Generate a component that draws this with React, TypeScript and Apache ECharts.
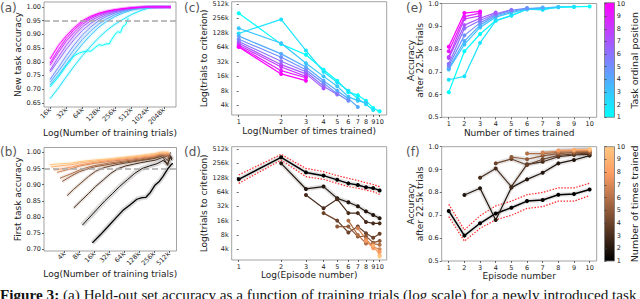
import React, { useEffect, useRef } from 'react';
import * as echarts from 'echarts';

// ---------------- (a) New task accuracy vs training trials (k) ----------------
const A_TRIALS_K = [16, 23, 32, 45, 64, 91, 128, 181, 256, 362, 512, 724, 1024, 1448, 2048, 2780];
const A_POS1_TRIALS_K = [16, 23, 32, 45, 56, 64, 80, 91, 110, 128, 150, 181, 200, 220, 256, 290, 320, 362, 400, 450];
const A_POS1_ACC = [0.708, 0.745, 0.785, 0.822, 0.832, 0.836, 0.84, 0.838, 0.852, 0.862, 0.86, 0.866, 0.865, 0.88, 0.9, 0.91, 0.906, 0.93, 0.935, 0.958];
// positions 2..10
const A_ACC_BY_POS: (number | null)[][] = [
  [0.665, 0.705, 0.745, 0.785, 0.823, 0.857, 0.888, 0.915, 0.937, 0.955, 0.972, 0.985, 0.995, 1.0, null, null],
  [0.715, 0.752, 0.79, 0.828, 0.865, 0.898, 0.926, 0.948, 0.965, 0.978, 0.988, 0.995, 0.999, 1.0, 1.0, null],
  [0.725, 0.765, 0.805, 0.845, 0.882, 0.913, 0.938, 0.957, 0.972, 0.983, 0.991, 0.996, 0.999, 1.0, 1.0, 1.0],
  [0.735, 0.78, 0.822, 0.862, 0.898, 0.927, 0.95, 0.966, 0.978, 0.987, 0.993, 0.997, 0.999, 1.0, 1.0, 1.0],
  [0.762, 0.805, 0.845, 0.882, 0.915, 0.94, 0.958, 0.972, 0.982, 0.989, 0.994, 0.997, 0.999, 1.0, 1.0, 1.0],
  [0.768, 0.818, 0.86, 0.897, 0.928, 0.95, 0.965, 0.977, 0.985, 0.991, 0.995, 0.998, 0.999, 1.0, 1.0, 1.0],
  [0.787, 0.835, 0.875, 0.908, 0.937, 0.957, 0.971, 0.981, 0.988, 0.992, 0.996, 0.998, 1.0, 1.0, 1.0, 1.0],
  [0.795, 0.845, 0.885, 0.918, 0.944, 0.962, 0.975, 0.983, 0.989, 0.993, 0.996, 0.998, 1.0, 1.0, 1.0, 1.0],
  [0.81, 0.86, 0.895, 0.925, 0.95, 0.966, 0.977, 0.985, 0.99, 0.994, 0.997, 0.999, 1.0, 1.0, 1.0, 1.0],
];
const A_X_TICKS_K = [16, 32, 64, 128, 256, 512, 1024, 2048];
const A_Y_TICKS = [0.65, 0.7, 0.75, 0.8, 0.85, 0.9, 0.95, 1.0];

// ---------------- (b) First task accuracy vs training trials (k), by times trained ----------------
const B_TRIALS_K: number[][] = [
  [14.6, 21.1, 29.9, 42.2, 59.7, 84.4, 115, 147, 175, 215, 265, 326, 388, 478, 549, 609],
  [9.19, 13, 18.4, 26, 36.8, 52, 73.5, 104, 147, 208, 294, 388, 478, 549, 588],
  [6.15, 8.57, 12.1, 17.1, 24.3, 34.3, 48.5, 68.6, 97, 137, 194, 274, 388, 478, 549, 588],
  [4.53, 6.06, 8.57, 12.1, 17.1, 24.3, 34.3, 48.5, 68.6, 97, 137, 194, 274, 388, 478, 549],
  [3.6, 5.66, 8, 11.3, 16, 32, 64, 128, 256, 362, 512],
  [3.25, 5.66, 8, 11.3, 16, 32, 64, 128, 256, 362, 512],
  [2.83, 5.66, 8, 11.3, 16, 32, 64, 128, 256, 362, 512],
  [2.46, 5.66, 8, 11.3, 16, 32, 64, 128, 256, 362, 512],
  [2.14, 5.66, 8, 11.3, 16, 32, 64, 128, 256, 362, 512],
  [2.0, 5.66, 8, 11.3, 16, 32, 64, 128, 256, 362, 512],
];
const B_ACC: number[][] = [
  [0.72, 0.745, 0.77, 0.795, 0.82, 0.838, 0.855, 0.86, 0.861, 0.876, 0.898, 0.91, 0.926, 0.948, 0.96, 0.966],
  [0.775, 0.8, 0.825, 0.85, 0.872, 0.895, 0.915, 0.935, 0.95, 0.958, 0.965, 0.975, 0.965, 0.985, 0.975],
  [0.828, 0.85, 0.872, 0.895, 0.915, 0.935, 0.95, 0.958, 0.963, 0.968, 0.972, 0.976, 0.985, 0.96, 0.99, 0.98],
  [0.866, 0.885, 0.905, 0.925, 0.942, 0.952, 0.958, 0.963, 0.967, 0.971, 0.975, 0.978, 0.982, 0.99, 0.975, 1.0],
  [0.91, 0.928, 0.94, 0.948, 0.955, 0.963, 0.97, 0.976, 0.983, 0.99, 0.985],
  [0.92, 0.935, 0.945, 0.953, 0.959, 0.967, 0.973, 0.979, 0.986, 0.992, 0.99],
  [0.938, 0.95, 0.957, 0.962, 0.966, 0.972, 0.977, 0.982, 0.988, 0.995, 0.993],
  [0.945, 0.955, 0.961, 0.965, 0.969, 0.975, 0.98, 0.985, 0.99, 1.0, 0.995],
  [0.955, 0.962, 0.967, 0.97, 0.973, 0.978, 0.983, 0.988, 0.994, 1.0, 1.0],
  [0.962, 0.967, 0.971, 0.974, 0.976, 0.98, 0.985, 0.99, 0.996, 1.0, 1.0],
];
const B_X_TICKS_K = [4, 8, 16, 32, 64, 128, 256, 512];
const B_Y_TICKS = [0.7, 0.75, 0.8, 0.85, 0.9, 0.95, 1.0];

// ---------------- (c) Trials to criterion (k) vs number of times trained, by task position ----------------
const C_TRIALS_K: number[][] = [
  [330, 75, 45, 22, 13, 7.5, 6.5, 5, 3.5, 3],
  [125, 245, 55, 20, 12, 8, 5.5, 4.2, 3.2],
  [160, 78, 30, 16, 10, 6, 5, 4.5],
  [110, 47, 25, 13, 8, 5.5, 3.7],
  [95, 40, 22, 11.5, 7, 5],
  [85, 33, 20, 10, 6.7],
  [78, 28, 18, 9],
  [72, 25, 16],
  [68, 21, 15],
  [65, 18, 13],
];
const TIMES = [1, 2, 3, 4, 5, 6, 7, 8, 9, 10];
const LOG_Y_TICKS_K = [4, 8, 16, 32, 64, 128, 256, 512];

// ---------------- (d) Trials to criterion (k) vs episode, by times trained ----------------
const D_TRIALS_K: number[][] = [
  [118, 342, 165, 141, 115, 97, 90, 80, 77, 69],
  [256, 74, 83, 47, 39, 32, 25, 21, 18],
  [55, 29, 45, 23, 23, 15, 14, 14],
  [23, 16, 9, 12, 8.7, 7, 8.5],
  [12, 12, 7.4, 7.5, 5.5, 6],
  [16, 8, 5.3, 5.2, 5],
  [11, 6.5, 4.5, 4],
  [6, 4.2, 3.5],
  [4.8, 3],
  [2.8],
];
const D_UPPER_K = [146, 395, 200, 171, 141, 124, 111, 100, 92, 83];
const D_LOWER_K = [97, 300, 134, 118, 97, 83, 77, 70, 65, 57];

// ---------------- (e) Accuracy after 22.5k trials vs times trained, by task position ----------------
const E_ACC: number[][] = [
  [0.61, 0.79, 0.866, 0.925, 0.948, 0.975, 0.975, 0.983, 0.985, 0.987],
  [0.665, 0.68, 0.827, 0.924, 0.946, 0.975, 0.972, 0.985, 0.986],
  [0.71, 0.82, 0.895, 0.94, 0.96, 0.975, 0.98, 0.985],
  [0.715, 0.835, 0.905, 0.945, 0.965, 0.978, 0.982],
  [0.725, 0.86, 0.915, 0.95, 0.97, 0.98],
  [0.735, 0.89, 0.925, 0.955, 0.972],
  [0.76, 0.905, 0.935, 0.96],
  [0.765, 0.932, 0.946],
  [0.79, 0.942, 0.958],
  [0.81, 0.958, 0.965],
];
const ACC_TICKS = [0.5, 0.6, 0.7, 0.8, 0.9, 1.0];

// ---------------- (f) Accuracy after 22.5k trials vs episode, by times trained ----------------
const F_ACC: number[][] = [
  [0.719, 0.611, 0.665, 0.708, 0.733, 0.762, 0.767, 0.79, 0.793, 0.813],
  [0.789, 0.818, 0.679, 0.821, 0.857, 0.886, 0.927, 0.942, 0.961],
  [0.864, 0.905, 0.825, 0.923, 0.934, 0.956, 0.964, 0.966],
  [0.927, 0.946, 0.92, 0.945, 0.962, 0.968, 0.972],
  [0.955, 0.945, 0.96, 0.97, 0.975, 0.975],
  [0.97, 0.97, 0.975, 0.978, 0.98],
  [0.975, 0.98, 0.982, 0.984],
  [0.984, 0.986, 0.986],
  [0.987, 0.988],
  [0.99],
];
const F_UPPER = [0.748, 0.636, 0.698, 0.741, 0.762, 0.79, 0.8, 0.82, 0.82, 0.84];
const F_LOWER = [0.694, 0.587, 0.643, 0.68, 0.7, 0.73, 0.738, 0.762, 0.762, 0.786];
const CB_TICKS = [1, 2, 3, 4, 5, 6, 7, 8, 9, 10];

const CAPTION_BOLD = 'Figure 3:';
const CAPTION_TEXT = ' (a) Held-out set accuracy as a function of training trials (log scale) for a newly introduced task';

const FONT = 'DejaVu Sans';

function cool(p: number) {
  const t = (p - 1) / 9;
  return `rgb(${Math.round(255 * t)},${Math.round(255 * (1 - t))},255)`;
}
function copper(k: number) {
  const t = (k - 1) / 9;
  return `rgb(${Math.round(Math.min(1, 1.25 * t) * 255)},${Math.round(0.7812 * t * 255)},${Math.round(0.4975 * t * 255)})`;
}

function buildOption() {
  const grids = [
    { left: 44, top: 2, width: 132, height: 105 },
    { left: 44, top: 147.5, width: 132.5, height: 103.5 },
    { left: 231.7, top: 1.7, width: 155, height: 113.3 },
    { left: 231.7, top: 146.7, width: 155, height: 113.3 },
    { left: 441.7, top: 2.7, width: 155, height: 114.6 },
    { left: 441.7, top: 146.7, width: 155, height: 114.3 },
    { left: 604.5, top: 2.7, width: 10, height: 114.6 },
    { left: 604.5, top: 146.7, width: 10, height: 114.3 },
  ].map((g, i) => ({
    ...g,
    show: i < 6,
    borderColor: '#8c8c8c',
    borderWidth: 0.8,
    backgroundColor: 'transparent',
    containLabel: false,
  }));

  const nameStyle = { fontSize: 9, color: '#222', fontFamily: FONT };
  const axisBase = (gridIndex: number, min: number, max: number, ticks: number[], fmt: (v: number) => string, extra: any = {}) => ({
    type: 'value',
    gridIndex,
    min,
    max,
    splitLine: { show: false },
    axisLine: { show: false },
    axisTick: { show: true, length: 2, lineStyle: { color: '#444', width: 0.8 }, customValues: ticks },
    axisLabel: { fontSize: 6.5, color: '#222', fontFamily: FONT, margin: 3, customValues: ticks, formatter: fmt, ...(extra.axisLabel || {}) },
    nameTextStyle: nameStyle,
    nameLocation: 'middle',
    ...Object.fromEntries(Object.entries(extra).filter(([k]) => k !== 'axisLabel')),
  });

  const kFmt = (v: number) => `${Math.round(Math.pow(2, v))}k`;
  const nFmt = (v: number) => `${Math.round(Math.exp(v))}`;
  const f2 = (v: number) => v.toFixed(2);
  const f1 = (v: number) => v.toFixed(1);
  const lnTicks = TIMES.map((n) => Math.log(n));

  const xAxis: any[] = [
    axisBase(0, 3.63, 11.75, A_X_TICKS_K.map(Math.log2), kFmt, { name: 'Log(Number of training trials)', nameGap: 20, axisLabel: { rotate: 45, margin: 2 } }),
    axisBase(1, 0.63, 9.5, B_X_TICKS_K.map(Math.log2), kFmt, { name: 'Log(Number of training trials)', nameGap: 18, axisLabel: { rotate: 45, margin: 2 } }),
    axisBase(2, -0.115, 2.418, lnTicks, nFmt, { name: 'Log(Number of times trained)', nameGap: 11 }),
    axisBase(3, -0.115, 2.418, lnTicks, nFmt, { name: 'Log(Episode number)', nameGap: 10 }),
    axisBase(4, 0.55, 10.45, TIMES, (v) => `${v}`, { name: 'Number of times trained', nameGap: 10 }),
    axisBase(5, 0.55, 10.45, TIMES, (v) => `${v}`, { name: 'Episode number', nameGap: 10 }),
    { type: 'value', gridIndex: 6, min: 0, max: 1, show: false },
    { type: 'value', gridIndex: 7, min: 0, max: 1, show: false },
  ];
  const yAxis: any[] = [
    axisBase(0, 0.635, 1.018, A_Y_TICKS, f2, { name: 'New task accuracy', nameGap: 19 }),
    axisBase(1, 0.695, 1.015, B_Y_TICKS, f2, { name: 'First task accuracy', nameGap: 19 }),
    axisBase(2, 1.33, 9.16, LOG_Y_TICKS_K.map(Math.log2), kFmt, { name: 'Log(trials to criterion)', nameGap: 20.5 }),
    axisBase(3, 1.25, 9.16, LOG_Y_TICKS_K.map(Math.log2), kFmt, { name: 'Log(trials to criterion)', nameGap: 20.5 }),
    axisBase(4, 0.5, 1.0, ACC_TICKS, f1, { name: 'Accuracy\nafter 22.5k trials', nameGap: 17.5 }),
    axisBase(5, 0.5, 1.0, ACC_TICKS, f1, { name: 'Accuracy\nafter 22.5k trials', nameGap: 17.5 }),
    axisBase(6, 1, 10, CB_TICKS, (v) => `${v}`, { position: 'right', name: 'Task ordinal position', nameGap: 15, nameRotate: 90, nameTextStyle: { ...nameStyle, fontSize: 9.5 } }),
    axisBase(7, 1, 10, CB_TICKS, (v) => `${v}`, { position: 'right', name: 'Number of times trained', nameGap: 15, nameRotate: 90, nameTextStyle: { ...nameStyle, fontSize: 9.5 } }),
  ];

  const series: any[] = [];
  const add = (idx: number, data: number[][], color: string, o: any = {}) => {
    series.push({
      type: 'line',
      xAxisIndex: idx,
      yAxisIndex: idx,
      data,
      silent: true,
      showSymbol: !!o.symbol,
      symbol: 'circle',
      symbolSize: o.symbolSize || 4,
      lineStyle: { color, width: o.width || 1, opacity: o.opacity ?? 1, type: o.type || 'solid' },
      itemStyle: { color },
      z: o.z ?? 2,
      ...(o.markLine ? { markLine: o.markLine } : {}),
    });
  };
  const dash95 = {
    silent: true,
    symbol: 'none',
    label: { show: false },
    lineStyle: { type: [6, 3], color: '#a8a8a8', width: 1.5 },
    data: [{ yAxis: 0.95 }],
  };

  // (a)
  const aLines: { pos: number; data: number[][] }[] = [];
  aLines.push({ pos: 1, data: A_POS1_TRIALS_K.map((t, j) => [Math.log2(t), A_POS1_ACC[j]]) });
  A_ACC_BY_POS.forEach((acc, i) => {
    const d: number[][] = [];
    A_TRIALS_K.forEach((t, j) => { if (acc[j] != null) d.push([Math.log2(t), acc[j] as number]); });
    aLines.push({ pos: i + 2, data: d });
  });
  aLines.forEach((l) => add(0, l.data, cool(l.pos), { width: 3.5, opacity: 0.15 }));
  aLines.forEach((l, i) => add(0, l.data, cool(l.pos), { width: 1, markLine: i === aLines.length - 1 ? dash95 : undefined, z: 3 }));

  // (b)
  B_TRIALS_K.forEach((tr, i) => {
    const d = tr.map((t, j) => [Math.log2(t), B_ACC[i][j]]);
    add(1, d, i < 2 ? '#888' : copper(i + 1), { width: i < 2 ? 5 : 3.5, opacity: i < 2 ? 0.3 : 0.15 });
  });
  B_TRIALS_K.forEach((tr, i) => {
    const d = tr.map((t, j) => [Math.log2(t), B_ACC[i][j]]);
    add(1, d, copper(i + 1), { width: i === 0 ? 1.3 : 1, markLine: i === B_TRIALS_K.length - 1 ? dash95 : undefined, z: 3 });
  });

  // (c)
  C_TRIALS_K.forEach((tr, i) => {
    const d = tr.map((t, j) => [Math.log(TIMES[j]), Math.log2(t)]);
    add(2, d, cool(i + 1), { symbol: true, width: 1.2, symbolSize: 4 });
  });

  // (d)
  add(3, D_UPPER_K.map((t, j) => [Math.log(TIMES[j]), Math.log2(t)]), '#ff2a2a', { type: [1.5, 1.5], width: 1.2 });
  add(3, D_LOWER_K.map((t, j) => [Math.log(TIMES[j]), Math.log2(t)]), '#ff2a2a', { type: [1.5, 1.5], width: 1.2 });
  D_TRIALS_K.forEach((tr, i) => {
    const d = tr.map((t, j) => [Math.log(TIMES[j + i]), Math.log2(t)]);
    if (i < 2) add(3, d, '#999', { width: 4.5, opacity: 0.3 });
  });
  D_TRIALS_K.forEach((tr, i) => {
    const d = tr.map((t, j) => [Math.log(TIMES[j + i]), Math.log2(t)]);
    add(3, d, copper(i + 1), { symbol: true, width: i === 0 ? 1.5 : 1.2, symbolSize: 4, z: 3 });
  });

  // (e)
  E_ACC.forEach((acc, i) => {
    const d = acc.map((v, j) => [TIMES[j], v]);
    add(4, d, cool(i + 1), { symbol: true, width: 1.2, symbolSize: 4 });
  });

  // (f)
  add(5, F_UPPER.map((v, j) => [TIMES[j], v]), '#ff2a2a', { type: [1.5, 1.5], width: 1.2 });
  add(5, F_LOWER.map((v, j) => [TIMES[j], v]), '#ff2a2a', { type: [1.5, 1.5], width: 1.2 });
  F_ACC.forEach((acc, i) => {
    const d = acc.map((v, j) => [TIMES[j + i], v]);
    add(5, d, '#999', { width: 4.5, opacity: 0.25 });
  });
  F_ACC.forEach((acc, i) => {
    const d = acc.map((v, j) => [TIMES[j + i], v]);
    add(5, d, copper(i + 1), { symbol: true, width: i === 0 ? 1.5 : 1.2, symbolSize: 4, z: 3 });
  });

  // empty series to anchor colorbar axes
  series.push({ type: 'line', xAxisIndex: 6, yAxisIndex: 6, data: [] });
  series.push({ type: 'line', xAxisIndex: 7, yAxisIndex: 7, data: [] });

  const letter = (txt: string, x: number, y: number) => ({
    type: 'text', x, y, silent: true,
    style: { text: txt, fontSize: 12, fill: '#555', fontFamily: FONT, verticalAlign: 'top' },
  });

  const graphic: any[] = [
    letter('(a)', 0, 2),
    letter('(b)', 0, 146),
    letter('(c)', 184, 2),
    letter('(d)', 184, 146),
    letter('(e)', 406, 2),
    letter('(f)', 406, 146),
    {
      type: 'rect', silent: true,
      shape: { x: 604.5, y: 2.7, width: 10, height: 114.6 },
      style: {
        fill: new echarts.graphic.LinearGradient(0, 0, 0, 1, [
          { offset: 0, color: 'rgb(255,0,255)' },
          { offset: 1, color: 'rgb(0,255,255)' },
        ]),
        stroke: '#777', lineWidth: 0.8,
      },
    },
    {
      type: 'rect', silent: true,
      shape: { x: 604.5, y: 146.7, width: 10, height: 114.3 },
      style: {
        fill: new echarts.graphic.LinearGradient(0, 0, 0, 1, [
          { offset: 0, color: 'rgb(255,199,127)' },
          { offset: 0.222, color: 'rgb(255,159,101)' },
          { offset: 1, color: 'rgb(0,0,0)' },
        ]),
        stroke: '#777', lineWidth: 0.8,
      },
    },
    {
      type: 'text', x: 0, y: 287, silent: true,
      style: {
        text: `{b|${CAPTION_BOLD}}${CAPTION_TEXT}`,
        fontFamily: 'Liberation Serif', fontSize: 15.2, fill: '#111', verticalAlign: 'top',
        rich: { b: { fontWeight: 'bold', fontFamily: 'Liberation Serif', fontSize: 15.2, fill: '#111' } },
      },
    },
  ];

  return {
    animation: false,
    backgroundColor: '#fff',
    textStyle: { fontFamily: FONT },
    grid: grids,
    xAxis,
    yAxis,
    series,
    graphic,
  };
}

export default function App() {
  const ref = useRef<HTMLDivElement>(null);
  useEffect(() => {
    document.body.style.margin = '0';
    const chart = echarts.init(ref.current as HTMLDivElement, null, { renderer: 'svg' });
    chart.setOption(buildOption() as any);
    return () => chart.dispose();
  }, []);
  return <div ref={ref} style={{ width: 640, height: 299 }} />;
}
